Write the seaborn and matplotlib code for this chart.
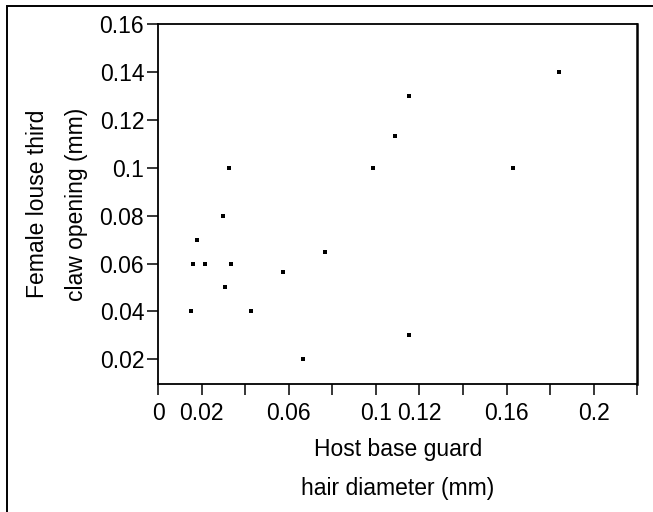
import numpy as np
import pandas as pd
import matplotlib
matplotlib.use("Agg")
import matplotlib.pyplot as plt
from matplotlib.patches import Rectangle
import seaborn as sns

# data
hair_diameter = [0.0324, 0.0297, 0.0179, 0.0767, 0.1840, 0.1152, 0.1088, 0.0986,
                 0.1628, 0.0159, 0.0214, 0.0334, 0.0572, 0.0306, 0.0150, 0.0426,
                 0.0664, 0.1151]
claw_opening = [0.100, 0.080, 0.070, 0.065, 0.140, 0.130, 0.1134, 0.100,
                0.100, 0.060, 0.060, 0.060, 0.0565, 0.050, 0.040, 0.040,
                0.020, 0.030]

x_ticks = [0, 0.02, 0.04, 0.06, 0.08, 0.1, 0.12, 0.14, 0.16, 0.18, 0.2, 0.22]
x_labels = ["0", "0.02", "", "0.06", "", "0.1", "0.12", "", "0.16", "", "0.2", ""]
y_ticks = [0.02, 0.04, 0.06, 0.08, 0.1, 0.12, 0.14, 0.16]
y_labels = ["0.02", "0.04", "0.06", "0.08", "0.1", "0.12", "0.14", "0.16"]

df = pd.DataFrame({"x": hair_diameter, "y": claw_opening})

sns.set_style("ticks")
plt.rcParams["font.family"] = ["Liberation Sans", "DejaVu Sans"]
plt.rcParams["text.color"] = "black"
plt.rcParams["axes.labelcolor"] = "black"

fig = plt.figure(figsize=(6.53, 5.12), dpi=100)
ax = fig.add_axes([0.242, 0.25, 0.734, 0.703])

sns.scatterplot(data=df, x="x", y="y", marker="s", color="black", s=10,
                linewidth=0, ax=ax)

ax.set_xlim(0, 0.22)
ax.set_ylim(0.0097, 0.16)
ax.set_xticks(x_ticks)
ax.set_xticklabels(x_labels)
ax.set_yticks(y_ticks)
ax.set_yticklabels(y_labels)
ax.tick_params(axis="both", labelsize=16.5, length=8, width=1.1, color="black",
               labelcolor="black")
ax.tick_params(axis="y", pad=2)
ax.tick_params(axis="x", pad=5)

for side in ["left", "bottom", "top", "right"]:
    ax.spines[side].set_visible(True)
    ax.spines[side].set_color("black")
    ax.spines[side].set_linewidth(1.3)
ax.spines["right"].set_linewidth(1.8)

ax.set_xlabel("Host base guard\nhair diameter (mm)", fontsize=16.5,
              linespacing=1.9, labelpad=9, color="black")
ax.set_ylabel("Female louse third\nclaw opening (mm)", fontsize=16.5,
              linespacing=1.9, labelpad=8, color="black")

# outer frame (cut at right and bottom in the original)
fig.patches.append(Rectangle((7 / 653, -0.1), 1.2, 1.1 - 6 / 512,
                             transform=fig.transFigure, fill=False,
                             edgecolor="black", linewidth=1.4, clip_on=False))

fig.savefig("out.png", dpi=100)
